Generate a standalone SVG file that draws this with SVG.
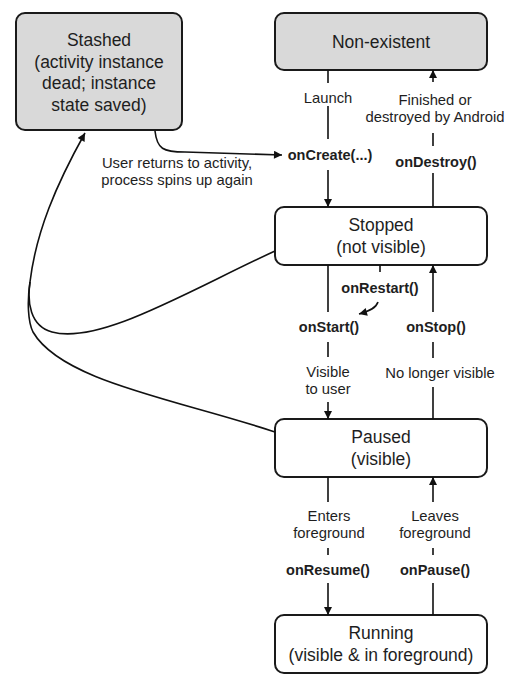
<svg xmlns="http://www.w3.org/2000/svg" width="517" height="682" viewBox="0 0 517 682">
<style>
.box{fill:#fff;stroke:#1a1a1a;stroke-width:2}
.gray{fill:#d9d9d9}
.st{font-family:"Liberation Sans",Arial,sans-serif;font-size:17.5px;fill:#1e1e1e;text-anchor:middle}
.lb{font-family:"Liberation Sans",Arial,sans-serif;font-size:14.8px;fill:#1e1e1e;text-anchor:middle}
.md{font-family:"Liberation Sans",Arial,sans-serif;font-size:14.5px;font-weight:bold;fill:#1e1e1e;text-anchor:middle}
.ln{fill:none;stroke:#111;stroke-width:1.6}
</style>
<defs>
<marker id="ah" viewBox="0 0 10 10" refX="10" refY="5" markerWidth="9" markerHeight="8" markerUnits="userSpaceOnUse" orient="auto">
<path d="M0,0 L10,5 L0,10 Z" fill="#111"/>
</marker>
</defs>
<g id="stashed">
<rect class="box gray" x="16" y="13" width="166" height="117" rx="9"/>
<text class="st" x="99" y="46">Stashed</text>
<text class="st" x="99" y="68">(activity instance</text>
<text class="st" x="99" y="89">dead; instance</text>
<text class="st" x="99" y="111">state saved)</text>
</g>
<g id="nonexistent">
<rect class="box gray" x="275" y="13" width="212" height="57" rx="9"/>
<text class="st" x="381" y="48">Non-existent</text>
</g>
<g id="stopped">
<rect class="box" x="275" y="207" width="212" height="58" rx="9"/>
<text class="st" x="381" y="231">Stopped</text>
<text class="st" x="381" y="253">(not visible)</text>
</g>
<g id="paused">
<rect class="box" x="275" y="419" width="212" height="58" rx="9"/>
<text class="st" x="381" y="443">Paused</text>
<text class="st" x="381" y="465">(visible)</text>
</g>
<g id="running">
<rect class="box" x="275" y="615" width="212" height="58" rx="9"/>
<text class="st" x="381" y="639">Running</text>
<text class="st" x="381" y="661">(visible &amp; in foreground)</text>
</g>
<g id="connectors">
<path class="ln" d="M328,70 V83 M328,106 V139"/>
<path class="ln" d="M328,170 V207" marker-end="url(#ah)"/>
<path class="ln" d="M433,207 V173 M433,146 V133"/>
<path class="ln" d="M433,82 V70" marker-end="url(#ah)"/>
<path class="ln" d="M155,131 C157,149 163,152 185,152 L282,155" marker-end="url(#ah)"/>
<path class="ln" d="M328,265 V312 M328,342 V357"/>
<path class="ln" d="M328,402 V419" marker-end="url(#ah)"/>
<path class="ln" d="M380,265 V272"/>
<path class="ln" d="M378,302 C376,308 370,311 359,314" marker-end="url(#ah)"/>
<path class="ln" d="M433,419 V387 M433,358 V342"/>
<path class="ln" d="M433,312 V265" marker-end="url(#ah)"/>
<path class="ln" d="M328,477 V502 M328,548 V555"/>
<path class="ln" d="M328,583 V615" marker-end="url(#ah)"/>
<path class="ln" d="M433,615 V583 M433,548 V555"/>
<path class="ln" d="M433,502 V477" marker-end="url(#ah)"/>
<path class="ln" d="M275,251 C190,290 100,345 52,332 C30,326 27,302 30,282 C36,232 56,185 85,133" marker-end="url(#ah)"/>
<path class="ln" d="M275,432 C180,400 62,382 33,332 C28,322 27,302 30,282"/>
</g>
<g id="labels">
<text class="lb" x="328" y="103">Launch</text>
<text class="md" x="330" y="160">onCreate(...)</text>
<text class="lb" x="435" y="105">Finished or</text>
<text class="lb" x="435" y="122">destroyed by Android</text>
<text class="md" x="436" y="167">onDestroy()</text>
<text class="lb" x="177" y="168">User returns to activity,</text>
<text class="lb" x="177" y="185">process spins up again</text>
<text class="md" x="380" y="293">onRestart()</text>
<text class="md" x="329" y="332">onStart()</text>
<text class="md" x="436" y="332">onStop()</text>
<text class="lb" x="328" y="377">Visible</text>
<text class="lb" x="328" y="394">to user</text>
<text class="lb" x="440" y="378">No longer visible</text>
<text class="lb" x="329" y="521">Enters</text>
<text class="lb" x="329" y="538">foreground</text>
<text class="md" x="328" y="575">onResume()</text>
<text class="lb" x="435" y="521">Leaves</text>
<text class="lb" x="435" y="538">foreground</text>
<text class="md" x="435" y="575">onPause()</text>
</g>
</svg>
